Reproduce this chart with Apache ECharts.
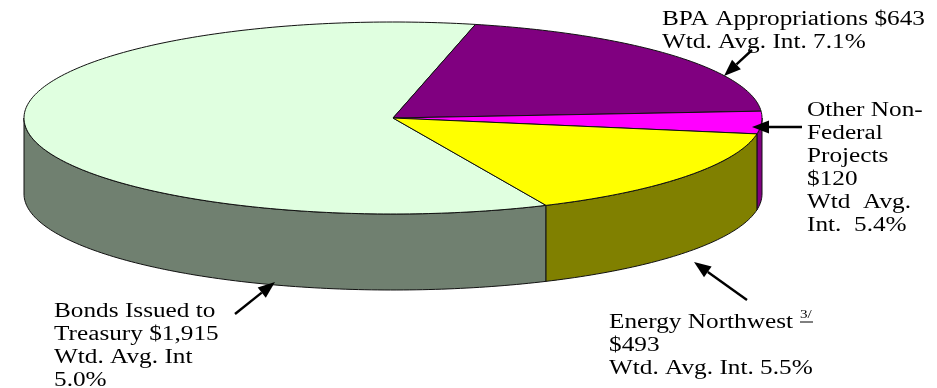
<!DOCTYPE html>
<html>
<head>
<meta charset="utf-8">
<style>html,body{margin:0;padding:0;background:#fff}#chart{width:937px;height:388px}</style>
<script src="https://cdn.jsdelivr.net/npm/echarts@6/dist/echarts.min.js"></script>
</head>
<body>
<div id="chart"></div>
<script>
// Outstanding debt by holder, $ millions, clockwise from the front of the disc.
const categories = ['Bonds Issued to Treasury', 'BPA Appropriations', 'Other Non-Federal Projects', 'Energy Northwest'];
const amounts = [1915, 643, 120, 493];
const avgInterest = [5.0, 7.1, 5.4, 5.5];

const topColors = ['#E0FFE0', '#800080', '#FF00FF', '#FFFF00'];
const wallColors = ['#708070', '#400040', '#800080', '#808000'];

// Disc geometry
const CX = 393, CY = 118, RX = 369, RY = 96, DEPTH = 76, START_DEG = 65.5;
const OUTLINE = '#111';
const FONT = '"Liberation Serif", "Times New Roman", serif';
const FONT_SIZE = 20, LINE = 23, TEXT_STRETCH = 1.263, BASELINE_OFFSET = 14;
const OVERLAY_Z = 100;

const total = amounts.reduce((a, b) => a + b, 0);
const rad = d => d * Math.PI / 180;

function rim(fromDeg, toDeg, dy) {
  const pts = [];
  const n = Math.max(2, Math.ceil(Math.abs(toDeg - fromDeg)));
  for (let i = 0; i <= n; i++) {
    const t = rad(fromDeg + (toDeg - fromDeg) * i / n);
    pts.push([CX + RX * Math.cos(t), CY + RY * Math.sin(t) + dy]);
  }
  return pts;
}

function sliceStart(index) {
  let a = START_DEG;
  for (let i = 0; i < index; i++) a += amounts[i] / total * 360;
  return a;
}

// One slice: the visible part of its outer wall, then its top face.
function renderSlice(params, api) {
  const i = params.dataIndex;
  const sweep = api.value(0) / total * 360;
  const from = sliceStart(i);
  const to = from + sweep;
  const children = [];
  // The wall faces the viewer on 0..180 degrees and again on 360..540 after a full turn.
  [0, 360].forEach(turn => {
    const lo = Math.max(from, turn), hi = Math.min(to, turn + 180);
    if (hi > lo) {
      children.push({
        type: 'polygon', z2: 1,
        shape: { points: rim(lo, hi, 0).concat(rim(hi, lo, DEPTH)) },
        style: { fill: wallColors[i], stroke: OUTLINE, lineWidth: 1 }
      });
    }
  });
  children.push({
    type: 'polygon', z2: 2,
    shape: { points: [[CX, CY]].concat(rim(from, to, 0)) },
    style: { fill: topColors[i], stroke: OUTLINE, lineWidth: 1, lineJoin: 'round' }
  });
  return { type: 'group', children };
}

// Callout text blocks, one line per entry; y is the first baseline
const money = v => '$' + v.toLocaleString('en-US');
const labelBlocks = [
  { x: 54, y: 316, lines: ['Bonds Issued to', 'Treasury ' + money(amounts[0]), 'Wtd. Avg. Int', avgInterest[0].toFixed(1) + '%'] },
  { x: 662, y: 24, lines: ['BPA Appropriations ' + money(amounts[1]), 'Wtd. Avg. Int. ' + avgInterest[1].toFixed(1) + '%'] },
  { x: 807, y: 115, lines: ['Other Non-', 'Federal', 'Projects', money(amounts[2]), 'Wtd  Avg.', 'Int.  ' + avgInterest[2].toFixed(1) + '%'] },
  { x: 609, y: 327, lines: ['Energy Northwest', money(amounts[3]), 'Wtd. Avg. Int. ' + avgInterest[3].toFixed(1) + '%'] }
];

// Leader arrows: tail point, then tip
const arrows = [
  [[235, 314], [275, 282]],
  [[752, 50], [724, 76]],
  [[802, 127], [752, 127]],
  [[747, 300], [694, 262]]
];

function arrowGraphics([[x0, y0], [x1, y1]]) {
  const a = Math.atan2(y1 - y0, x1 - x0);
  const len = 17, half = 6.5;
  const bx = x1 - len * Math.cos(a), by = y1 - len * Math.sin(a);
  const nx = -Math.sin(a), ny = Math.cos(a);
  return [
    { type: 'line', silent: true, z: OVERLAY_Z, shape: { x1: x0, y1: y0, x2: bx, y2: by }, style: { stroke: '#000', lineWidth: 2.4 } },
    { type: 'polygon', silent: true, z: OVERLAY_Z,
      shape: { points: [[x1, y1], [bx + nx * half, by + ny * half], [bx - nx * half, by - ny * half]] },
      style: { fill: '#000' } }
  ];
}

const textGraphics = [];
labelBlocks.forEach(b => b.lines.forEach((line, k) => {
  textGraphics.push({
    type: 'text', silent: true, z: OVERLAY_Z, x: b.x, y: b.y + k * LINE - BASELINE_OFFSET,
    scaleX: TEXT_STRETCH,
    style: { text: line, fill: '#000', font: FONT_SIZE + 'px ' + FONT }
  });
}));
// Footnote marker after "Energy Northwest"
textGraphics.push({
  type: 'text', silent: true, z: OVERLAY_Z, x: 800, y: 309, scaleX: TEXT_STRETCH,
  style: { text: '3/', fill: '#000', font: '12px ' + FONT }
});
textGraphics.push({
  type: 'line', silent: true, z: OVERLAY_Z, shape: { x1: 800, y1: 322, x2: 813, y2: 322 }, style: { stroke: '#000', lineWidth: 1 }
});

const chart = echarts.init(document.getElementById('chart'), null, { renderer: 'canvas' });
chart.setOption({
  backgroundColor: '#fff',
  animation: false,
  tooltip: { show: false },
  series: [{
    type: 'custom',
    coordinateSystem: 'none',
    silent: true,
    renderItem: renderSlice,
    data: amounts.map((v, i) => ({ name: categories[i], value: [v] }))
  }],
  graphic: { elements: arrows.flatMap(arrowGraphics).concat(textGraphics) }
});
</script>
</body>
</html>
